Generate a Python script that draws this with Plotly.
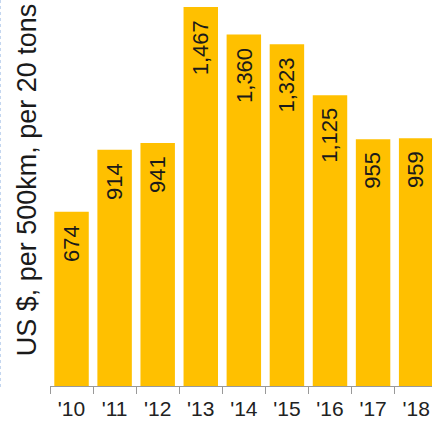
import plotly.graph_objects as go

# Road freight cost per year
years = ["'10", "'11", "'12", "'13", "'14", "'15", "'16", "'17", "'18"]
cost = [674, 914, 941, 1467, 1360, 1323, 1125, 955, 959]
labels = [f"{v:,}" for v in cost]

BAR = "#FFC000"
FONT = "Liberation Sans, Arial, sans-serif"

fig = go.Figure(
    go.Bar(
        x=years,
        y=cost,
        marker=dict(color=BAR, line=dict(width=0)),
        hoverinfo="skip",
    )
)

# Value labels, rotated and sitting near the top of each bar
for yr, v, lab in zip(years, cost, labels):
    fig.add_annotation(
        x=yr, y=v, text=lab, textangle=-90,
        xref="x", yref="y", showarrow=False,
        yanchor="top", xanchor="center", yshift=-11,
        font=dict(family=FONT, size=22, color="#1a1a1a"),
    )

# Vertical axis title
fig.add_annotation(
    x=-0.058, y=0.535, xref="paper", yref="paper",
    text="US $, per 500km, per 20 tons", textangle=-90,
    showarrow=False, xanchor="center", yanchor="middle",
    font=dict(family=FONT, size=27, color="#1a1a1a"),
)

# Faint dotted guide along the left edge
fig.add_shape(
    type="line", xref="paper", yref="paper",
    x0=-0.1296, x1=-0.1296, y0=1.0, y1=-0.01,
    line=dict(color="#c4d6ef", width=1, dash="dot"),
)

fig.update_layout(
    width=432, height=422,
    margin=dict(l=50, r=0, t=0, b=36, pad=0),
    paper_bgcolor="white", plot_bgcolor="white",
    bargap=0.2, showlegend=False,
    font=dict(family=FONT, size=22, color="#222222"),
)
fig.update_xaxes(
    range=[-0.5, 8.368],
    tickson="boundaries", ticks="outside", ticklen=7, tickwidth=1,
    tickcolor="#999999", showline=True, linecolor="#999999", linewidth=1,
    showgrid=False, zeroline=False, automargin=False,
    ticklabelstandoff=4,
    tickfont=dict(family=FONT, size=21, color="#222222"),
)
fig.update_yaxes(
    range=[0, 1494], visible=False, showgrid=False, zeroline=False,
)

fig.write_html("out.html")
